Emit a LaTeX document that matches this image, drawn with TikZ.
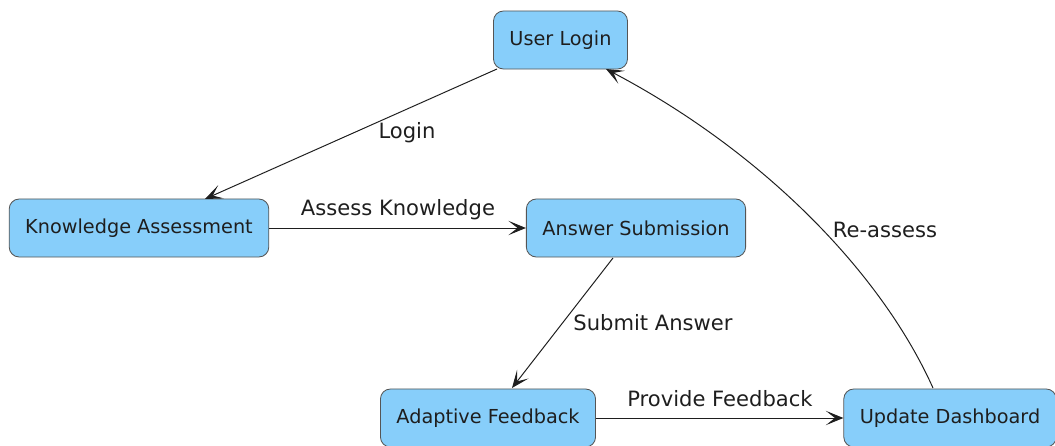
\documentclass[tikz,border=0pt]{standalone}
\usepackage{fontspec}
\setmainfont{DejaVu Sans}
\usetikzlibrary{arrows.meta}
\definecolor{boxfill}{HTML}{87CEFA}
\definecolor{boxline}{HTML}{555555}
\definecolor{ink}{HTML}{1E1E1E}

\begin{document}
\begin{tikzpicture}[x=0.025cm,y=-0.025cm,
    state/.style={draw=boxline, fill=boxfill, rounded corners=0.25cm, line width=0.6pt,
                  minimum height=1.45cm, inner xsep=0.4cm, text=ink, font=\fontsize{13.7}{16}\selectfont},
    flow/.style={draw=ink, line width=0.7pt, -{Stealth[length=4.4mm, width=3.6mm, inset=2.3mm]}},
    lbl/.style={text=ink, font=\fontsize{15}{17}\selectfont}]
			%%%%% START %%%%%
			\useasboundingbox (0,0) rectangle (1055,446);
			
			\node[state] (login) at (560.5, 40) {User Login};
			\node[state] (assess) at (139, 228) {Knowledge Assessment};
			\node[state] (submit) at (636, 228) {Answer Submission};
			\node[state] (feedback) at (488, 418) {Adaptive Feedback};
			\node[state] (dash) at (950, 418) {Update Dashboard};
			
			\coordinate (loginA) at (497, 69);
			\coordinate (assessA) at (205, 199);
			\draw[flow] (loginA) -- (assessA);
			\node[lbl] (tLogin) at (407, 133) {Login};
			
			\draw[flow] (assess) -- (submit);
			\node[lbl] (tAssess) at (398, 210) {Assess Knowledge};
			
			\coordinate (submitA) at (613, 258);
			\coordinate (feedbackA) at (512, 388);
			\draw[flow] (submitA) -- (feedbackA);
			\node[lbl] (tSubmit) at (653, 323) {Submit Answer};
			
			\draw[flow] (feedback) -- (dash);
			\node[lbl] (tProvide) at (720, 399) {Provide Feedback};
			
			\coordinate (dashA) at (933, 388);
			\coordinate (loginB) at (606, 69);
			\draw[flow] (dashA) .. controls (880, 270) and (760, 150) .. (loginB);
			\node[lbl] (tReassess) at (885, 230) {Re-assess};
			%%%%% END %%%%%
\end{tikzpicture}
\end{document}
